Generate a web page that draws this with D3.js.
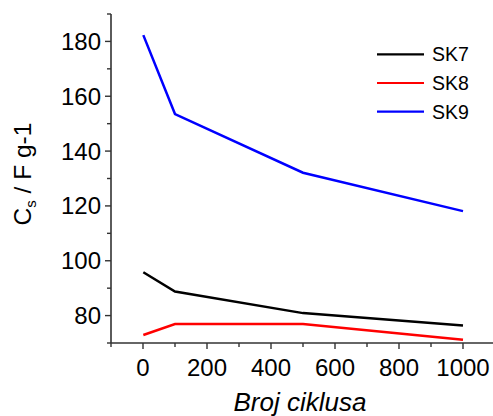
<!DOCTYPE html>
<html>
<head>
<meta charset="utf-8">
<script src="https://cdn.jsdelivr.net/npm/d3@7"></script>
<style>
  body { margin: 0; background: #fff; }
  text { font-family: "Liberation Sans", Arial, sans-serif; }
</style>
</head>
<body>
<div id="container"></div>
<script>
let w = 493;
let h = 416;

// data
let cycles = [1, 100, 500, 1000];
let sk7 = [95.8, 88.8, 80.9, 76.4];
let sk8 = [72.9, 76.9, 76.9, 71.2];
let sk9 = [182.3, 153.5, 132.1, 118.1];
let seriesNames = ["SK7", "SK8", "SK9"];
let seriesColors = ["#000000", "#ff0000", "#0000ff"];
let xTicks = [0, 200, 400, 600, 800, 1000];
let yTicks = [80, 100, 120, 140, 160, 180];

let viz = d3.select("#container")
  .append("svg")
    .attr("width", w)
    .attr("height", h)
;

let x = d3.scaleLinear().domain([-100, 1100]).range([111, 495]);
let y = d3.scaleLinear().domain([70, 190]).range([343, 14]);

let axisColor = "#333";

// x axis
let xMinor = d3.range(-100, 1101, 100);
let xg = viz.append("g").attr("transform", "translate(0," + y(70) + ")");
xg.append("line")
  .attr("x1", x(-100)).attr("x2", w)
  .attr("stroke", axisColor).attr("stroke-width", 1.6);
xg.selectAll(".xminor").data(xMinor).enter()
  .append("line")
    .attr("x1", d => x(d)).attr("x2", d => x(d))
    .attr("y1", 0).attr("y2", d => (d % 200 == 0) ? 6 : 4)
    .attr("stroke", axisColor).attr("stroke-width", 1.4);
xg.selectAll(".xlab").data(xTicks).enter()
  .append("text")
    .attr("x", d => x(d))
    .attr("y", 33)
    .attr("text-anchor", "middle")
    .attr("font-size", 24)
    .attr("fill", "#000")
    .text(d => d);

// y axis
let yMinor = d3.range(70, 191, 10);
let yg = viz.append("g").attr("transform", "translate(" + x(-100) + ",0)");
yg.append("line")
  .attr("y1", y(70)).attr("y2", y(190))
  .attr("stroke", axisColor).attr("stroke-width", 1.6);
yg.selectAll(".yminor").data(yMinor).enter()
  .append("line")
    .attr("y1", d => y(d)).attr("y2", d => y(d))
    .attr("x1", 0).attr("x2", d => (d % 20 == 0) ? -6 : -4)
    .attr("stroke", axisColor).attr("stroke-width", 1.4);
yg.selectAll(".ylab").data(yTicks).enter()
  .append("text")
    .attr("x", -10)
    .attr("y", d => y(d) + 8.5)
    .attr("text-anchor", "end")
    .attr("font-size", 24)
    .attr("fill", "#000")
    .text(d => d);

// axis titles
viz.append("text")
  .attr("x", 300)
  .attr("y", 411)
  .attr("text-anchor", "middle")
  .attr("font-size", 26)
  .attr("font-style", "italic")
  .text("Broj ciklusa");

let ylab = viz.append("text")
  .attr("transform", "translate(31,174) rotate(-90)")
  .attr("text-anchor", "middle")
  .attr("font-size", 24.5);
ylab.append("tspan").text("C");
ylab.append("tspan").attr("font-size", 15).attr("dy", 5).text("s");
ylab.append("tspan").attr("dy", -5).text(" / F g-1");

// lines
let allSeries = [sk7, sk8, sk9];
let line = d3.line()
  .x((d, i) => x(cycles[i]))
  .y(d => y(d));

viz.selectAll(".series").data(allSeries).enter()
  .append("path")
    .attr("class", "series")
    .attr("d", d => line(d))
    .attr("fill", "none")
    .attr("stroke", (d, i) => seriesColors[i])
    .attr("stroke-width", 2.5);

// legend
let legend = viz.selectAll(".legend").data(seriesNames).enter()
  .append("g")
    .attr("transform", (d, i) => "translate(377," + (54.3 + i * 28.7) + ")");
legend.append("line")
  .attr("x1", 0).attr("x2", 47)
  .attr("stroke", (d, i) => seriesColors[i])
  .attr("stroke-width", 2.2);
legend.append("text")
  .attr("x", 55)
  .attr("y", 7)
  .attr("font-size", 19.5)
  .text(d => d);
</script>
</body>
</html>
